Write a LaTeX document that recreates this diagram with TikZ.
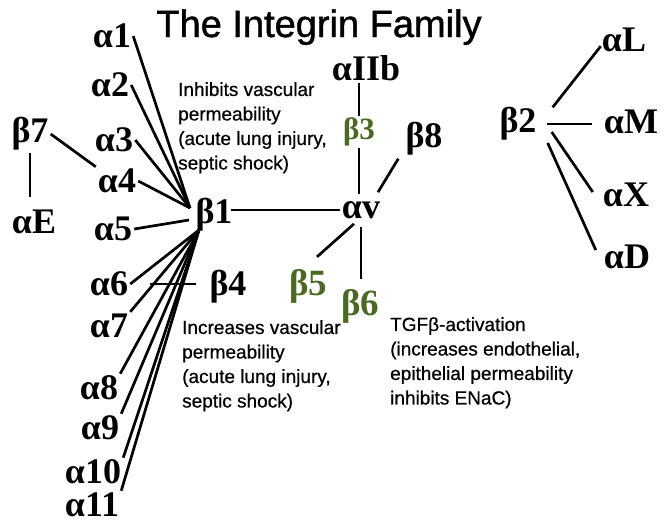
\documentclass[tikz,border=0pt]{standalone}
\usepackage{fontspec}
\setmainfont{Liberation Serif}
\newfontfamily\notefont[FakeBold=0.6]{Liberation Sans}
\newfontfamily\titlefont[FakeBold=1.2]{Liberation Sans}
\usetikzlibrary{calc}
\definecolor{integreen}{RGB}{74,106,36}

\tikzset{
  sub/.style={font=\bfseries\fontsize{36}{36}\selectfont, inner sep=2pt},
  gsub/.style={font=\bfseries\fontsize{37}{37}\selectfont, text=integreen, inner sep=2pt},
  note/.style={font=\notefont\fontsize{19}{24.5}\selectfont, align=left, anchor=north west, inner sep=0pt},
  link/.style={line width=2.7pt},
}

\begin{document}
\begin{tikzpicture}[x=1pt,y=-1pt]
\useasboundingbox[fill=white] (0,0) rectangle (664,523);

% title
\node[font=\titlefont\fontsize{38}{38}\selectfont, anchor=base, inner sep=0pt] (title) at (319,37) {The Integrin Family};

% beta1 family
\node[sub] (b1) at (214,215) {β1};
\node[sub] (a1) at (112,36) {α1};
\node[sub] (a2) at (110,85) {α2};
\node[sub] (a3) at (114,140) {α3};
\node[sub] (a4) at (117,181) {α4};
\node[sub] (a5) at (113,229) {α5};
\node[sub] (a6) at (109,284) {α6};
\node[sub] (a7) at (109,326) {α7};
\node[sub] (a8) at (99,388) {α8};
\node[sub] (a9) at (100,428) {α9};
\node[sub] (a10) at (93,472) {α10};
\node[sub] (a11) at (92,505) {α11};
\node[sub] (b4) at (228,287) {β4};
\node[sub] (b7) at (30,134) {β7};
\node[sub] (aE) at (34,222) {αE};

\coordinate (hubU) at (190,208);
\coordinate (hubL) at (199,230);

\foreach \n in {a1,a2,a3,a4}
  \draw[link] (\n.east) -- (hubU);
\draw[link] (a5.east) -- (189,220);
\draw[link] (a6.east) -- (hubL);
\foreach \n in {a7,a8,a9,a10,a11}
  \draw[link] (\n.north east) -- (hubL);
\draw[link, shorten <=20pt, shorten >=11pt] (a6.east) -- (a6.east -| b4.west);
\draw[link] (b7.east) -- (a4.north west);
\draw[link, shorten >=11pt] (b7.south) -- (b7.south |- aE.north);

% alpha v / beta3 group
\node[sub] (aIIb) at (366,68) {αIIb};
\node[gsub, font=\bfseries\fontsize{31}{31}\selectfont] (b3) at (359,132) {β3};
\node[sub] (av) at (361,210) {αv};
\node[sub] (b8) at (424,139) {β8};
\node[gsub] (b5) at (308,286) {β5};
\node[gsub] (b6) at (360,306) {β6};

\draw[link] (b3.north) -- (b3.north |- aIIb.south);
\draw[link, shorten >=5pt] (b3.south) -- (b3.south |- av.north);
\draw[link] ($(b1.east)+(-4,-5)$) -- (av.west);
\draw[link] ($(b8.south west)+(-5,1)$) -- ($(av.north)+(17,-7)$);
\draw[link] ($(b5.north)+(9,-10)$) -- ($(av.south)+(-7,3)$);
\draw[link, shorten <=6pt, shorten >=8pt] (av.south) -- (av.south |- b6.north);

% beta2 family
\node[sub] (b2) at (518,124) {β2};
\node[sub] (aL) at (624,40) {αL};
\node[sub] (aM) at (631,122) {αM};
\node[sub] (aX) at (626,195) {αX};
\node[sub] (aD) at (627,257) {αD};
\draw[link] ($(b2.north east)+(14,2)$) -- ($(aL.south west)+(1,-8)$);
\draw[link, shorten <=8pt, shorten >=10pt] (b2.east) -- (b2.east -| aM.west);
\draw[link] ($(b2.east)+(13,8)$) -- ($(aX.west)+(-8,-3)$);
\draw[link] ($(b2.east)+(9,19)$) -- ($(aD.west)+(-6,-7)$);

% annotations
\node[note] (n1) at (178,82) {Inhibits vascular\\permeability\\(acute lung injury,\\septic shock)};
\node[note] (n2) at (182,320) {Increases vascular\\permeability\\(acute lung injury,\\septic shock)};
\node[note] (n3) at (390,317) {TGFβ-activation\\(increases endothelial,\\epithelial permeability\\inhibits ENaC)};
\end{tikzpicture}
\end{document}
